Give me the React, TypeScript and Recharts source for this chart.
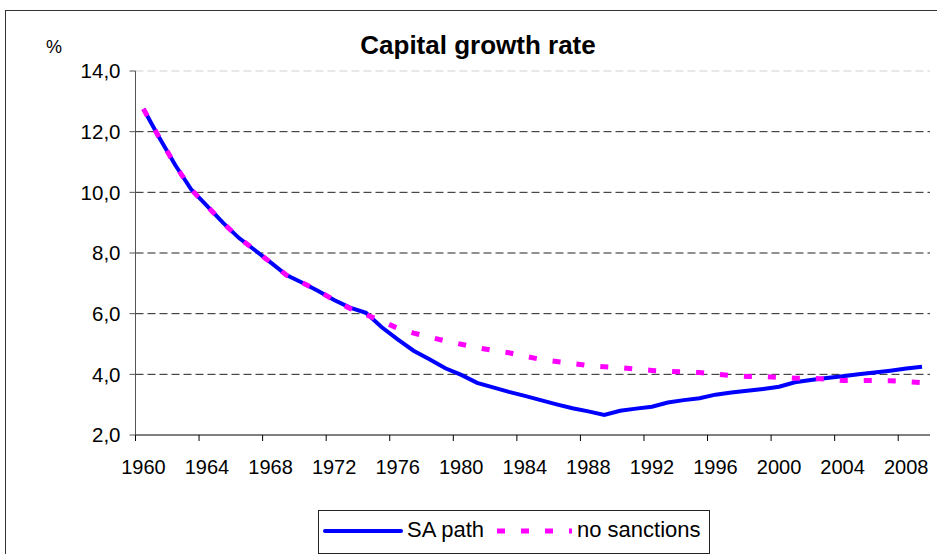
import React from 'react';
import { LineChart, Line, XAxis, YAxis, ReferenceLine } from 'recharts';

// categories
const years = [
  1960, 1961, 1962, 1963, 1964, 1965, 1966, 1967, 1968, 1969,
  1970, 1971, 1972, 1973, 1974, 1975, 1976, 1977, 1978, 1979,
  1980, 1981, 1982, 1983, 1984, 1985, 1986, 1987, 1988, 1989,
  1990, 1991, 1992, 1993, 1994, 1995, 1996, 1997, 1998, 1999,
  2000, 2001, 2002, 2003, 2004, 2005, 2006, 2007, 2008, 2009,
];

// capital growth rate, %
const saPath = [
  12.75, 11.8, 10.9, 10.1, 9.55, 9.0, 8.5, 8.1, 7.69, 7.27,
  7.02, 6.75, 6.45, 6.2, 6.03, 5.55, 5.15, 4.78, 4.5, 4.2,
  3.98, 3.72, 3.57, 3.42, 3.29, 3.15, 3.01, 2.88, 2.78, 2.66,
  2.8, 2.87, 2.93, 3.07, 3.15, 3.21, 3.33, 3.4, 3.46, 3.52,
  3.59, 3.74, 3.81, 3.88, 3.94, 4.0, 4.06, 4.12, 4.19, 4.25,
];

const noSanctions = [
  12.75, 11.8, 10.9, 10.1, 9.55, 9.0, 8.5, 8.1, 7.69, 7.27,
  7.02, 6.75, 6.45, 6.17, 5.97, 5.75, 5.52, 5.36, 5.23, 5.1,
  4.99, 4.88, 4.79, 4.71, 4.6, 4.49, 4.42, 4.36, 4.29, 4.25,
  4.22, 4.17, 4.13, 4.1, 4.08, 4.06, 4.01, 3.96, 3.93, 3.93,
  3.9, 3.87, 3.87, 3.84, 3.8, 3.8, 3.8, 3.79, 3.76, 3.73,
];

const yTicks = [2, 4, 6, 8, 10, 12, 14];
const gridDark = [4, 6, 8, 10, 12];
const gridLight = [14];
// tick marks sit between categories (every 4 years), labels on the category
const xTickMarks = [1959.5, 1963.5, 1967.5, 1971.5, 1975.5, 1979.5, 1983.5, 1987.5, 1991.5, 1995.5, 1999.5, 2003.5, 2007.5];

const data = years.map((year, i) => ({ year, sa: saPath[i], ns: noSanctions[i] }));

const W = 937;
const H = 554;
const M = { top: 71, right: 7, left: 75.5, bottom: 89 };
const Y_W = 60;
const PLOT_W = W - M.left - M.right - Y_W;
const HALF_BAND = PLOT_W / years.length / 2;

const FONT = '"Liberation Sans", Arial, sans-serif';

const YearTick = (props: any) => {
  const { x, y, payload } = props;
  return (
    <g>
      <line x1={x} x2={x} y1={y} y2={y + 6} stroke="#000" strokeWidth={1} />
      <text x={x + HALF_BAND} y={y + 39} textAnchor="middle" fill="#000" fontSize={20} fontFamily={FONT}>
        {payload.value + 0.5}
      </text>
    </g>
  );
};

const fmt = (v: number) => v.toFixed(1).replace('.', ',');

export default function App() {
  return (
    <div style={{ position: 'absolute', left: 0, top: 0, width: W, height: H, overflow: 'hidden', background: '#fff', fontFamily: FONT }}>
      <div style={{ position: 'absolute', left: 5, top: 10, width: 1000, height: 1000, borderTop: '1.5px solid #333', borderLeft: '1.5px solid #333' }} />
      <div style={{ position: 'absolute', left: 378, width: 200, top: 30, fontSize: 26, fontWeight: 'bold', whiteSpace: 'nowrap', display: 'flex', justifyContent: 'center' }}>
        Capital growth rate
      </div>
      <div style={{ position: 'absolute', left: 46, top: 37, fontSize: 18 }}>%</div>
      <div style={{ position: 'absolute', left: 0, top: 0 }}>
        <LineChart width={W} height={H} data={data} margin={M}>
          {gridDark.map((v) => (
            <ReferenceLine key={v} y={v} stroke="#222" strokeDasharray="8 4" />
          ))}
          {gridLight.map((v) => (
            <ReferenceLine key={v} y={v} stroke="#d0d0d0" strokeDasharray="8 4" />
          ))}
          <XAxis
            dataKey="year"
            type="number"
            domain={[1959.5, 2009.5]}
            ticks={xTickMarks}
            interval={0}
            tick={<YearTick />}
            tickLine={false}
            tickSize={0}
            tickMargin={0}
            height={30}
            axisLine={{ stroke: '#000', strokeWidth: 1 }}
          />
          <YAxis
            type="number"
            domain={[2, 14]}
            ticks={yTicks}
            interval={0}
            width={Y_W}
            tickFormatter={fmt}
            tickSize={6}
            tickMargin={9}
            axisLine={{ stroke: '#555' }}
            tickLine={{ stroke: '#555' }}
            tick={{ fill: '#000', fontSize: 20.5, fontFamily: FONT }}
          />
          <Line type="linear" dataKey="sa" stroke="#0000ff" strokeWidth={4} dot={false} isAnimationActive={false} />
          <Line type="linear" dataKey="ns" stroke="#ff00ff" strokeWidth={5} strokeDasharray="8 16" dot={false} isAnimationActive={false} />
        </LineChart>
      </div>
      <div style={{ position: 'absolute', left: 318, top: 510, width: 390, height: 42, border: '1.5px solid #222', fontSize: 22 }}>
        <svg width={390} height={42} style={{ position: 'absolute', left: 0, top: 0 }}>
          <line x1={6} x2={82} y1={20} y2={20} stroke="#0000ff" strokeWidth={4} strokeLinecap="round" />
          <line x1={178} x2={253} y1={20} y2={20} stroke="#ff00ff" strokeWidth={5} strokeDasharray="8 16" />
        </svg>
        <span style={{ position: 'absolute', left: 88, top: 6, whiteSpace: 'nowrap' }}>SA path</span>
        <span style={{ position: 'absolute', left: 258, top: 6, whiteSpace: 'nowrap' }}>no sanctions</span>
      </div>
    </div>
  );
}
